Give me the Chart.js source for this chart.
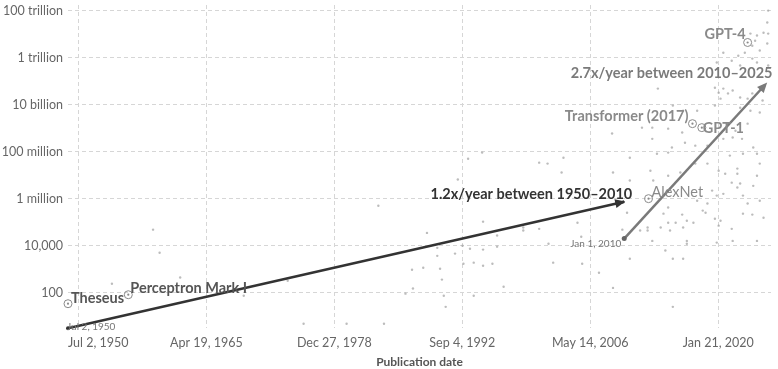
<!DOCTYPE html>
<html>
<head>
<meta charset="utf-8">
<title>Parameters of notable AI systems</title>
<script src="https://cdn.jsdelivr.net/npm/chart.js@4/dist/chart.umd.min.js"></script>
<style>
  html, body { margin: 0; padding: 0; background: #fff; }
  #wrap { width: 778px; height: 369px; }
</style>
</head>
<body>
<div id="wrap"><canvas id="c" width="778" height="369"></canvas></div>
<script>
// Publication date axis (decimal years) and its labels
const xTickYears = [1951.607, 1965.297, 1978.986, 1992.676, 2006.365, 2020.055];
const xTickLabels = ['Jul 2, 1950', 'Apr 19, 1965', 'Dec 27, 1978', 'Sep 4, 1992', 'May 14, 2006', 'Jan 21, 2020'];

// Parameter axis (log scale)
const yTickValues = [1e2, 1e4, 1e6, 1e8, 1e10, 1e12, 1e14];
const yTickLabels = ['100', '10,000', '1 million', '100 million', '10 billion', '1 trillion', '100 trillion'];

// All systems: [publication year, parameters]
const systems = [
  [1955.2, 240], [1959.6, 4.8e4], [1960.3, 5.0e3], [1962.5, 440], [1969.3, 74],
  [1983.7, 5.0e5], [1988.9, 3.5e4], [1994.9, 1.05e5], [1996.4, 2.7e4], [1990.3, 1050],
  [1987.3, 950], [1988.5, 1150], [1990.5, 360], [1987.4, 150], [1986.6, 91],
  [1990.7, 74], [1990.9, 25], [1975.7, 4.8], [1980.3, 4.8], [1984.3, 4.8],
  [1974.0, 320], [1993.9, 1900], [1994.9, 1400], [1995.9, 1700], [1992.8, 1700],
  [1993.5, 7400], [1996.4, 9100], [1997.1, 180], [1993.9, 74], [1992.7, 1.0e4],
  [1993.3, 5.0e7], [1994.8, 9.1e7], [2000.9, 3.4e7], [2003.3, 1.3e7], [1992.2, 6.5e6],
  [1999.2, 4.4e4], [2000.9, 5.2e4], [2005.0, 9.5e4], [2005.4, 2.4e4], [2001.9, 1.2e4],
  [1990.0, 8100], [1994.9, 6800], [1990.0, 3700], [1991.9, 4600], [2002.4, 1900],
  [2005.5, 1700], [2007.3, 710],
  [1999.2, 5.9e4], [2008.8, 160], [2010.6, 2800], [2015.2, 25], [2009.8, 4.8e4],
  [2012.5, 4.4e4], [2010.3, 2.5e5], [2014.7, 4.2e5], [2016.2, 2.1e5], [2017.4, 9.5e4],
  [2014.7, 9.5e4], [2015.5, 9.5e4], [2016.7, 1.15e5], [2016.7, 1.6e4], [2016.7, 1.2e4],
  [2015.2, 2800], [2016.3, 2800], [2021.5, 5.2e4], [2022.7, 2.3e5], [2023.7, 2.1e5],
  [2024.2, 1.6e4], [2020.3, 1.15e5], [2021.5, 4.8e6], [2022.4, 4.4e6], [2019.9, 1.35e6],
  [2024.9, 1.55e5], [2018.7, 2.5e5], [2014.2, 2.3e5], [2013.0, 1.6e4], [2012.5, 5.9e4],
  [2014.4, 6200],
  [2023.8, 3.5e6], [2022.7, 1.35e6], [2022.1, 3.0e6], [2020.6, 1.6e6], [2019.4, 2.2e6],
  [2024.5, 8.1e5], [2018.9, 6.2e5], [2017.8, 8.1e5], [2019.7, 1.4e5], [2013.9, 5.9e4],
  [2014.9, 4.4e4], [2016.3, 5.9e4], [2020.1, 7.1e4], [2011.7, 4.4e4], [2021.6, 1.6e4],
  [2019.9, 1.35e4], [2023.2, 6.2e5], [2018.4, 3.1e5],
  [2008.7, 5.9e8], [2011.9, 1.05e9], [2013.0, 1.05e9], [2014.7, 9.5e8], [2016.2, 6.5e8],
  [2016.5, 2.4e8], [2017.6, 1.8e8], [2018.9, 1.8e8], [2020.6, 3.5e8], [2021.6, 4.0e8],
  [2022.6, 3.5e8], [2021.9, 7.8e8], [2023.2, 1.55e9], [2021.1, 1.55e9], [2023.8, 1.5e8],
  [2024.2, 8.1e7], [2021.3, 6.8e7], [2022.7, 8.1e7], [2024.5, 3.1e7], [2024.2, 9.5e6],
  [2022.1, 1.9e7], [2022.1, 1.15e7], [2020.8, 1.15e7], [2020.1, 1.55e7], [2018.9, 3.1e7],
  [2017.6, 3.1e7], [2016.0, 1.3e7], [2014.7, 9.5e6], [2013.1, 5.9e6], [2008.8, 1.3e7],
  [2010.6, 5.9e6],
  [2013.6, 4.8e10], [2001.8, 3.1e7], [2003.5, 5.5e7], [2013.0, 3.5e8], [2015.1, 1.5e8],
  [2010.6, 5.5e7], [2012.8, 1.55e7], [2013.5, 8.1e7], [2014.7, 9.1e7],
  [2025.3, 3.1e13], [2024.9, 1.15e13], [2024.2, 8.7e12], [2025.3, 4.0e12], [2024.5, 2.0e12],
  [2023.7, 3.2e12], [2024.0, 5.2e12], [2023.5, 1.05e13], [2022.9, 1.6e12], [2023.7, 9.1e11],
  [2024.2, 6.2e11], [2022.2, 1.2e12], [2021.5, 7.4e11], [2022.4, 4.6e11], [2025.4, 4.6e11],
  [2025.4, 1.05e13], [2025.4, 1.0e14], [2020.6, 1.6e12], [2019.9, 6.2e11], [2019.7, 5.2e10],
  [2020.1, 3.2e10], [2020.6, 4.8e10], [2021.1, 3.0e10], [2021.6, 4.0e10], [2022.4, 2.0e10],
  [2023.2, 1.8e10], [2020.3, 1.8e10], [2023.7, 3.0e10], [2024.8, 1.5e10], [2022.4, 7.4e9],
  [2023.5, 5.5e9], [2024.5, 4.6e9], [2019.7, 9.1e9], [2017.8, 5.5e9], [2015.2, 9.1e9],
  [2016.3, 5.5e9]
];

// Highlighted systems
const notableNames  = ['Theseus', 'Perceptron Mark I', 'AlexNet', 'Transformer (2017)', 'GPT-1', 'GPT-4'];
const notableYears  = [1950.5, 1956.95, 2012.6, 2017.3, 2018.3, 2023.2];
const notableParams = [34, 82, 1.0e6, 1.55e9, 1.05e9, 4.4e12];

// Growth trends: [year, parameters] at start and end
const trendNames = ['1.2x/year between 1950–2010', '2.7x/year between 2010–2025'];
const trendStartDates = ['Jul 2, 1950', 'Jan 1, 2010'];
const trendEarly = [[1950.5, 3.1], [2010.0, 7.4e5]];
const trendLate  = [[2010.0, 2.0e4], [2025.0, 6.5e10]];

// ---- presentation ----
const FONT = 'Lato, "Open Sans", sans-serif';
const TICK_FONT_SIZE = 12.5;
const TICK_PAD = 7;
const notableStyle = {
  'Theseus':            { align: 'left',  dx: 3,  dy: -1, color: '#555', weight: 'bold' },
  'Perceptron Mark I':  { align: 'left',  dx: 2,  dy: -2, color: '#555', weight: 'bold' },
  'AlexNet':            { align: 'left',  dx: 3,  dy: -2, color: '#8a8a8a', weight: 'normal' },
  'Transformer (2017)': { align: 'right', dx: -4, dy: -3, color: '#8a8a8a', weight: 'bold' },
  'GPT-1':              { align: 'left',  dx: 1,  dy: 5,  color: '#8a8a8a', weight: 'bold' },
  'GPT-4':              { align: 'right', dx: -2, dy: -3, color: '#8a8a8a', weight: 'bold' }
};
// arrowheads poke a little past the trend end (tipOut, px)
const trendStyle = [
  { color: '#333', dx: 8, dy: -3, tipOut: 1, dateAlign: 'left',  dateDx: -1, dateDy: -1 },
  { color: '#7a7a7a', dx: 8, dy: -8, tipOut: 4, dateAlign: 'right', dateDx: -3, dateDy: 5 }
];

const toXY = pairs => pairs.map(p => ({ x: p[0], y: p[1] }));
const notablePoints = notableYears.map((yr, i) => ({ x: yr, y: notableParams[i] }));

// keep the plot area flush with the axis boxes
const noEdgePadding = (s) => { s.paddingTop = 0; s.paddingBottom = 0; s.paddingLeft = 0; s.paddingRight = 0; };

const annotations = {
  id: 'annotations',
  afterDraw(chart) {
    // first date label sits flush with the left edge of the plot
    const { ctx, chartArea } = chart;
    ctx.save();
    ctx.font = TICK_FONT_SIZE + 'px ' + FONT;
    ctx.fillStyle = '#666';
    ctx.textAlign = 'left';
    ctx.textBaseline = 'middle';
    ctx.fillText(xTickLabels[0], chartArea.left, chartArea.bottom + TICK_PAD + TICK_FONT_SIZE * 0.6);
    ctx.restore();
  },
  afterDatasetsDraw(chart) {
    const { ctx } = chart;
    const xs = chart.scales.x, ys = chart.scales.y;
    const P = (pt) => ({ x: xs.getPixelForValue(pt[0]), y: ys.getPixelForValue(pt[1]) });
    ctx.save();

    // arrowheads, trend captions and start dates
    [trendEarly, trendLate].forEach((tr, i) => {
      const st = trendStyle[i];
      const a = P(tr[0]), b = P(tr[1]);
      const ang = Math.atan2(b.y - a.y, b.x - a.x);
      const c = Math.cos(ang), s = Math.sin(ang);
      const tip = { x: b.x + st.tipOut * c, y: b.y + st.tipOut * s };
      const len = 10, half = 4.5;

      ctx.strokeStyle = st.color;
      ctx.lineWidth = 2.5;
      ctx.beginPath();
      ctx.moveTo(b.x, b.y);
      ctx.lineTo(tip.x - len * c, tip.y - len * s);
      ctx.stroke();

      ctx.fillStyle = st.color;
      ctx.beginPath();
      ctx.moveTo(tip.x, tip.y);
      ctx.lineTo(tip.x - len * c + half * s, tip.y - len * s - half * c);
      ctx.lineTo(tip.x - len * c - half * s, tip.y - len * s + half * c);
      ctx.closePath();
      ctx.fill();

      ctx.font = 'bold 14.5px ' + FONT;
      ctx.textAlign = 'right';
      ctx.textBaseline = 'alphabetic';
      ctx.fillText(trendNames[i], b.x + st.dx, b.y + st.dy);

      ctx.font = '10px ' + FONT;
      ctx.fillStyle = '#777';
      ctx.textAlign = st.dateAlign;
      ctx.textBaseline = 'middle';
      ctx.fillText(trendStartDates[i], a.x + st.dateDx, a.y + st.dateDy);
    });

    // names of highlighted systems
    notableNames.forEach((name, i) => {
      const st = notableStyle[name];
      const p = P([notableYears[i], notableParams[i]]);
      ctx.font = st.weight + ' 14.5px ' + FONT;
      ctx.fillStyle = st.color;
      ctx.textAlign = st.align;
      ctx.textBaseline = 'alphabetic';
      ctx.fillText(name, p.x + st.dx, p.y + st.dy);
    });
    ctx.restore();
  }
};

new Chart(document.getElementById('c'), {
  type: 'scatter',
  data: {
    datasets: [
      {
        label: 'Systems',
        data: toXY(systems),
        pointRadius: 1.2,
        pointBackgroundColor: 'rgba(160,160,160,0.7)',
        pointBorderWidth: 0,
        order: 5
      },
      {
        label: 'Notable rings',
        data: notablePoints,
        pointRadius: 4,
        pointBorderColor: '#8a8a8a',
        pointBackgroundColor: 'rgba(255,255,255,0)',
        pointBorderWidth: 1,
        order: 1
      },
      {
        label: 'Notable centres',
        data: notablePoints,
        pointRadius: 1.1,
        pointBackgroundColor: '#8a8a8a',
        pointBorderWidth: 0,
        order: 1
      },
      {
        label: trendNames[0],
        type: 'line',
        data: toXY(trendEarly),
        showLine: true,
        borderColor: '#333',
        borderWidth: 2.5,
        borderCapStyle: 'butt',
        pointRadius: [2, 0],
        pointBackgroundColor: '#333',
        pointBorderWidth: 0,
        order: 2
      },
      {
        label: trendNames[1],
        type: 'line',
        data: toXY(trendLate),
        showLine: true,
        borderColor: '#7a7a7a',
        borderWidth: 2.5,
        borderCapStyle: 'butt',
        pointRadius: [2.5, 0],
        pointBackgroundColor: '#666',
        pointBorderWidth: 0,
        order: 2
      }
    ]
  },
  options: {
    responsive: false,
    animation: false,
    devicePixelRatio: 1,
    clip: false,
    layout: { padding: { top: 0, right: 7, bottom: 0, left: 0 } },
    plugins: { legend: { display: false }, tooltip: { enabled: false } },
    scales: {
      x: {
        type: 'linear',
        min: 1950.5,
        max: 2025.7,
        afterBuildTicks: (s) => { s.ticks = xTickYears.map(v => ({ value: v })); },
        afterFit: (s) => { s.height = 41; noEdgePadding(s); },
        ticks: {
          autoSkip: false,
          maxRotation: 0,
          padding: TICK_PAD,
          color: '#666',
          font: { family: FONT, size: TICK_FONT_SIZE },
          callback: (v, i) => (i === 0 ? '' : xTickLabels[i])
        },
        grid: { color: '#d6d6d6', lineWidth: 1, drawTicks: false },
        border: { display: false, dash: [4, 3] },
        title: {
          display: true,
          text: 'Publication date',
          color: '#555',
          padding: { top: 2, bottom: 0 },
          font: { family: FONT, size: 12, weight: 'bold' }
        }
      },
      y: {
        type: 'logarithmic',
        min: 3.15,
        max: 1.73e14,
        afterBuildTicks: (s) => { s.ticks = yTickValues.map(v => ({ value: v })); },
        afterFit: (s) => { s.width = 68; noEdgePadding(s); },
        ticks: {
          padding: 5,
          color: '#666',
          font: { family: FONT, size: TICK_FONT_SIZE },
          callback: (v, i) => yTickLabels[i]
        },
        grid: { color: '#d6d6d6', lineWidth: 1, drawTicks: false },
        border: { display: false, dash: [4, 3] }
      }
    }
  },
  plugins: [annotations]
});
</script>
</body>
</html>
